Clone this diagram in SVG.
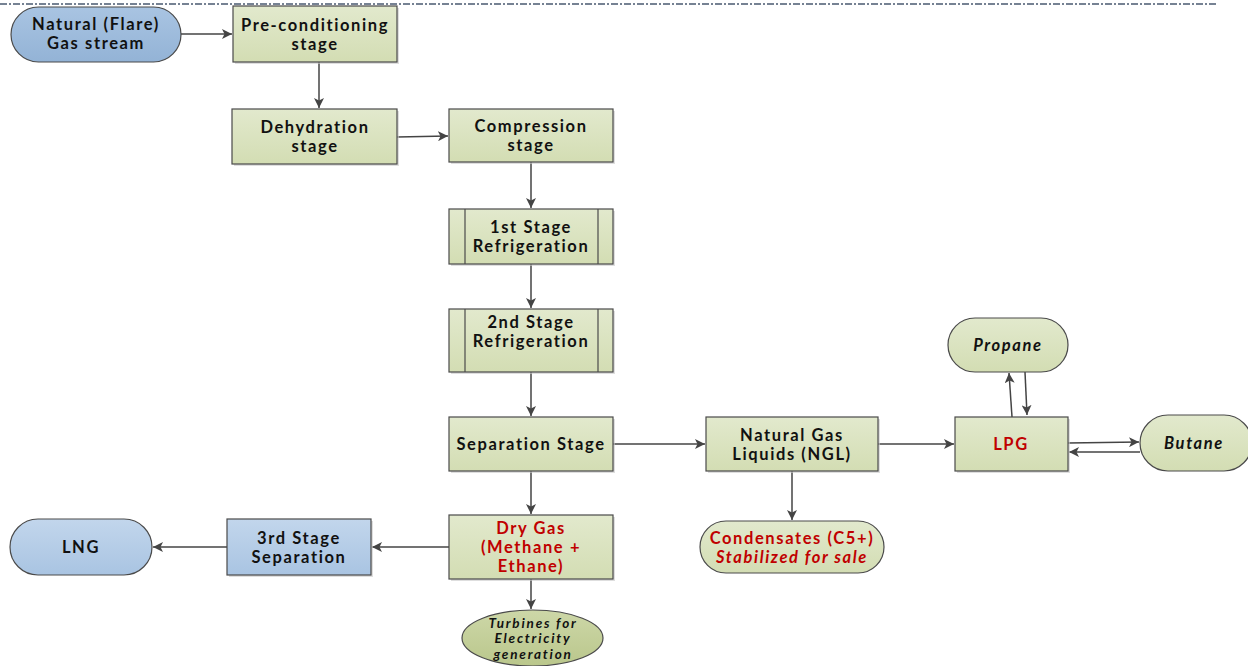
<svg xmlns="http://www.w3.org/2000/svg" width="1248" height="666" viewBox="0 0 1248 666">
<style>
.box{fill:url(#gGreen);stroke:#4a4a4a;stroke-width:1.2}
.blue{fill:url(#gBlue);stroke:#4a4a4a;stroke-width:1.2}
.olive{fill:url(#gOlive);stroke:#4a4a4a;stroke-width:1.2}
.sh{fill:#c8c8c8;opacity:0.6}
.in{stroke:#4a4a4a;stroke-width:1.2}
text{font-family:Lato,"Open Sans","Liberation Sans",sans-serif;font-weight:bold;font-size:16.5px;letter-spacing:1.6px;fill:#111;text-anchor:middle}
.red{fill:#c00000}
.it{font-style:italic}
.sm{font-size:13.5px;letter-spacing:1.8px}
.c{stroke:#444;stroke-width:1.5;fill:none;marker-end:url(#ah)}
</style>
<defs>
<linearGradient id="gGreen" x1="0" y1="0" x2="0" y2="1"><stop offset="0" stop-color="#e2e9cd"/><stop offset="1" stop-color="#d3ddb3"/></linearGradient>
<linearGradient id="gBlue" x1="0" y1="0" x2="0" y2="1"><stop offset="0" stop-color="#a9c4e2"/><stop offset="1" stop-color="#93b3d6"/></linearGradient>
<linearGradient id="gBlue2" x1="0" y1="0" x2="0" y2="1"><stop offset="0" stop-color="#c2d6ec"/><stop offset="1" stop-color="#a9c4e2"/></linearGradient>
<linearGradient id="gOlive" x1="0" y1="0" x2="0" y2="1"><stop offset="0" stop-color="#cdd7a8"/><stop offset="1" stop-color="#bac78c"/></linearGradient>
<marker id="ah" viewBox="0 0 10 10" refX="10" refY="5" markerWidth="10" markerHeight="10" markerUnits="userSpaceOnUse" orient="auto"><path d="M0,0 L10,5 L0,10 L2.5,5 Z" fill="#444"/></marker>
</defs>
<line x1="0" y1="4" x2="1216" y2="4" stroke="#4a5a70" stroke-width="1.5" stroke-dasharray="7,2,2,2"/>

<g id="connectors">
<line class="c" x1="181" y1="34" x2="232" y2="34"/>
<line class="c" x1="319" y1="62" x2="319" y2="108"/>
<line class="c" x1="397" y1="137" x2="448" y2="136"/>
<line class="c" x1="531" y1="162" x2="531" y2="208"/>
<line class="c" x1="531" y1="264" x2="531" y2="308"/>
<line class="c" x1="531" y1="372" x2="531" y2="416"/>
<line class="c" x1="613" y1="444" x2="705" y2="444"/>
<line class="c" x1="878" y1="444" x2="954" y2="444"/>
<line class="c" x1="1012" y1="417" x2="1009" y2="373"/>
<line class="c" x1="1025" y1="372" x2="1027" y2="415"/>
<line class="c" x1="1068" y1="443" x2="1139" y2="442"/>
<line class="c" x1="1140" y1="452" x2="1069" y2="452"/>
<line class="c" x1="792" y1="471" x2="792" y2="520"/>
<line class="c" x1="531" y1="471" x2="531" y2="514"/>
<line class="c" x1="449" y1="547" x2="372" y2="547"/>
<line class="c" x1="227" y1="547" x2="153" y2="547"/>
<line class="c" x1="531" y1="579" x2="531" y2="609"/>
</g>

<g id="n-source">
<rect x="11" y="7" width="170" height="55" rx="27.5" class="blue"/>
<text x="96" y="30">Natural (Flare)</text>
<text x="96" y="49">Gas stream</text>
</g>
<g id="n-precond">
<rect x="235" y="8" width="164" height="56" class="sh"/>
<rect x="233" y="6" width="164" height="56" class="box"/>
<text x="315" y="31">Pre-conditioning</text>
<text x="315" y="50">stage</text>
</g>
<g id="n-dehyd">
<rect x="234" y="111" width="165" height="55" class="sh"/>
<rect x="232" y="109" width="165" height="55" class="box"/>
<text x="315" y="133">Dehydration</text>
<text x="315" y="152">stage</text>
</g>
<g id="n-compress">
<rect x="451" y="111" width="164" height="53" class="sh"/>
<rect x="449" y="109" width="164" height="53" class="box"/>
<text x="531" y="132">Compression</text>
<text x="531" y="151">stage</text>
</g>
<g id="n-ref1">
<rect x="451" y="211" width="164" height="55" class="sh"/>
<rect x="449" y="209" width="164" height="55" class="box"/>
<line x1="465" y1="209" x2="465" y2="264" class="in"/>
<line x1="598" y1="209" x2="598" y2="264" class="in"/>
<text x="531" y="233">1st Stage</text>
<text x="531" y="252">Refrigeration</text>
</g>
<g id="n-ref2">
<rect x="451" y="311" width="164" height="63" class="sh"/>
<rect x="449" y="309" width="164" height="63" class="box"/>
<line x1="465" y1="309" x2="465" y2="372" class="in"/>
<line x1="598" y1="309" x2="598" y2="372" class="in"/>
<text x="531" y="327.5">2nd Stage</text>
<text x="531" y="346.5">Refrigeration</text>
</g>
<g id="n-sep">
<rect x="451" y="419" width="164" height="54" class="sh"/>
<rect x="449" y="417" width="164" height="54" class="box"/>
<text x="531" y="450">Separation Stage</text>
</g>
<g id="n-ngl">
<rect x="708" y="419" width="172" height="54" class="sh"/>
<rect x="706" y="417" width="172" height="54" class="box"/>
<text x="792" y="440.5">Natural Gas</text>
<text x="792" y="459.5">Liquids (NGL)</text>
</g>
<g id="n-lpg">
<rect x="957" y="419" width="113" height="54" class="sh"/>
<rect x="955" y="417" width="113" height="54" class="box"/>
<text x="1011" y="450" class="red">LPG</text>
</g>
<g id="n-propane">
<rect x="948" y="318" width="120" height="54" rx="27" class="box"/>
<text x="1008" y="351" class="it">Propane</text>
</g>
<g id="n-butane">
<rect x="1140" y="415" width="112" height="56" rx="28" class="box"/>
<text x="1194" y="449" class="it">Butane</text>
</g>
<g id="n-cond">
<rect x="700" y="521" width="184" height="52" rx="26" class="box"/>
<text x="792" y="543.5" class="red">Condensates (C5+)</text>
<text x="792" y="562.5" class="red it">Stabilized for sale</text>
</g>
<g id="n-dry">
<rect x="451" y="517" width="164" height="64" class="sh"/>
<rect x="449" y="515" width="164" height="64" class="box"/>
<text x="531" y="534" class="red">Dry Gas</text>
<text x="531" y="553" class="red">(Methane +</text>
<text x="531" y="572" class="red">Ethane)</text>
</g>
<g id="n-sep3">
<rect x="229" y="521" width="144" height="56" class="sh"/>
<rect x="227" y="519" width="144" height="56" fill="url(#gBlue2)" stroke="#4a4a4a" stroke-width="1.2"/>
<text x="299" y="543.5">3rd Stage</text>
<text x="299" y="562.5">Separation</text>
</g>
<g id="n-lng">
<rect x="10" y="519" width="142" height="56" rx="28" fill="url(#gBlue2)" stroke="#4a4a4a" stroke-width="1.2"/>
<text x="81" y="553">LNG</text>
</g>
<g id="n-turbines">
<ellipse cx="532.5" cy="638" rx="70.5" ry="28" class="olive"/>
<text x="533" y="627.5" class="it sm">Turbines for</text>
<text x="533" y="643" class="it sm">Electricity</text>
<text x="533" y="658.5" class="it sm">generation</text>
</g>
</svg>
